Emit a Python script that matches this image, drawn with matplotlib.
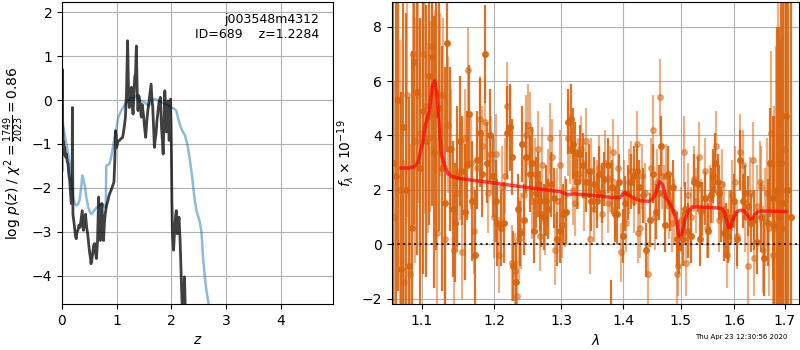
import matplotlib
matplotlib.use('Agg')
import matplotlib.pyplot as plt
from matplotlib.ticker import NullLocator, FixedLocator, FixedFormatter

# p(z) panel: prior-like curve (blue) and log p(z) (dark)
z_blue = [0.0, 0.02, 0.05, 0.08, 0.11, 0.14, 0.17, 0.2, 0.23, 0.26, 0.29, 0.32, 0.35, 0.37,
          0.39, 0.42, 0.45, 0.48, 0.51, 0.54, 0.57, 0.6, 0.63, 0.66, 0.69, 0.72, 0.75, 0.78,
          0.8, 0.81, 0.84, 0.87, 0.9, 0.93, 0.96, 1.0, 1.02, 1.04, 1.08, 1.12, 1.15, 1.18,
          1.22, 1.27, 1.31, 1.36, 1.39, 1.42, 1.46, 1.51, 1.55, 1.59, 1.63, 1.67, 1.71, 1.76,
          1.82, 1.88, 1.94, 2.0, 2.05, 2.09, 2.12, 2.16, 2.2, 2.25, 2.3, 2.34, 2.37, 2.4,
          2.43, 2.46, 2.52, 2.55, 2.58, 2.61, 2.64, 2.69, 2.75]
lnp_blue = [-0.65, -0.6, -0.8, -1.0, -1.2, -1.45, -1.8, -2.2, -2.35, -2.4, -2.38, -2.29, -2.0,
            -1.72, -1.8, -1.98, -2.25, -2.44, -2.55, -2.6, -2.55, -2.5, -2.45, -2.44, -2.4,
            -2.36, -2.38, -2.44, -2.45, -1.49, -1.48, -1.45, -1.3, -1.08, -0.85, -0.62, -0.45,
            -0.36, -0.25, -0.17, -0.1, -0.05, 0.0, 0.05, 0.03, 0.1, 0.05, -0.02, -0.02, -0.05,
            -0.1, -0.13, -0.05, 0.02, 0.02, -0.02, -0.05, -0.09, -0.12, -0.17, -0.2, -0.24,
            -0.4, -0.58, -0.7, -0.81, -1.05, -1.38, -1.65, -1.98, -2.3, -2.52, -2.78, -3.0,
            -3.58, -4.0, -4.33, -4.7, -5.3]

z_dark = [0.0, 0.005, 0.012, 0.02, 0.03, 0.04, 0.05, 0.065, 0.08, 0.095, 0.11, 0.125, 0.14,
          0.155, 0.17, 0.185, 0.19, 0.2, 0.215, 0.23, 0.245, 0.26, 0.275, 0.29, 0.31, 0.33,
          0.35, 0.37, 0.39, 0.41, 0.43, 0.45, 0.47, 0.49, 0.5, 0.52, 0.53, 0.545, 0.56, 0.58,
          0.6, 0.615, 0.63, 0.65, 0.67, 0.685, 0.7, 0.715, 0.73, 0.745, 0.76, 0.775, 0.79,
          0.815, 0.84, 0.855, 0.87, 0.9, 0.92, 0.95, 0.965, 0.98, 0.99, 1.0, 1.02, 1.05, 1.08,
          1.11, 1.14, 1.16, 1.18, 1.2, 1.215, 1.23, 1.25, 1.27, 1.285, 1.3, 1.315, 1.33, 1.345,
          1.36, 1.375, 1.39, 1.405, 1.42, 1.435, 1.45, 1.465, 1.48, 1.495, 1.51, 1.53, 1.55,
          1.57, 1.6, 1.63, 1.645, 1.66, 1.675, 1.69, 1.705, 1.72, 1.735, 1.75, 1.765, 1.78,
          1.8, 1.82, 1.835, 1.85, 1.865, 1.88, 1.895, 1.91, 1.925, 1.94, 1.95, 1.96, 1.975,
          1.985, 1.995, 2.0, 2.01, 2.02, 2.04, 2.06, 2.08, 2.09, 2.11, 2.13, 2.14, 2.16, 2.18,
          2.2, 2.22, 2.24, 2.26, 2.3]
lnp_dark = [-1.6, 0.7, -0.45, -1.05, -0.95, -1.25, -1.08, -1.3, -1.23, -1.4, -1.45, -1.7,
            -1.83, -2.1, -2.36, -2.3, -0.17, -2.6, -2.75, -2.9, -3.1, -3.16, -3.0, -2.97,
            -2.85, -2.9, -2.7, -2.52, -2.97, -2.8, -2.6, -2.9, -3.05, -3.3, -3.42, -3.6, -3.73,
            -3.65, -3.5, -3.3, -3.27, -3.5, -3.61, -3.2, -2.21, -2.9, -3.2, -2.7, -2.36, -2.9,
            -3.2, -2.8, -2.6, -2.4, -2.29, -2.2, -2.14, -2.05, -1.98, -1.87, -1.4, -0.7, -0.8,
            -1.08, -0.95, -0.92, -0.88, -0.85, -0.6, -0.39, 0.2, 1.35, 0.3, -0.17, 0.1, 0.29,
            -0.1, -0.32, 0.1, 0.52, 0.6, 1.23, 0.2, -0.24, 0.1, -0.02, -0.2, -0.39, -0.1, -0.24,
            -0.4, -0.62, -0.85, -0.5, -0.24, 0.06, 0.36, 0.0, -0.17, -0.6, -1.08, -0.9, -0.77,
            -0.5, -0.32, -0.15, -0.02, 0.06, -0.62, -0.9, -1.23, -0.5, 0.21, -0.2, -0.73, -0.3,
            -0.02, -0.5, -0.92, -0.2, 0.02, -0.6, -1.08, -2.29, -3.05, -3.42, -2.97, -2.6,
            -2.52, -3.05, -2.8, -2.67, -3.2, -4.03, -4.8, -4.6, -4.03, -5.0, -6.0]

# spectrum panel: two grism spectra (dark and light) and the model
lam_a = [1.063, 1.066, 1.069, 1.073, 1.076, 1.080, 1.083, 1.087, 1.090, 1.094, 1.097, 1.101,
         1.105, 1.109, 1.113, 1.116, 1.119, 1.123, 1.127, 1.131, 1.134, 1.138, 1.142, 1.145,
         1.148, 1.152, 1.155, 1.158, 1.161, 1.164, 1.168, 1.172, 1.175, 1.179, 1.183, 1.187,
         1.190, 1.194, 1.198, 1.202, 1.204, 1.209, 1.214, 1.219, 1.222, 1.225, 1.227, 1.232,
         1.235, 1.238, 1.241, 1.244, 1.247, 1.252, 1.255, 1.259, 1.262, 1.264, 1.267, 1.269,
         1.273, 1.277, 1.279, 1.285, 1.289, 1.294, 1.298, 1.303, 1.307, 1.311, 1.316, 1.319,
         1.322, 1.325, 1.329, 1.334, 1.340, 1.344, 1.348, 1.353, 1.357, 1.361, 1.365, 1.369,
         1.375, 1.380, 1.382, 1.386, 1.390, 1.394, 1.400, 1.404, 1.408, 1.414, 1.418, 1.424,
         1.428, 1.434, 1.440, 1.446, 1.451, 1.456, 1.461, 1.466, 1.472, 1.478, 1.482, 1.487,
         1.493, 1.498, 1.504, 1.508, 1.513, 1.519, 1.525, 1.531, 1.535, 1.540, 1.544, 1.550,
         1.556, 1.559, 1.563, 1.568, 1.570, 1.575, 1.580, 1.584, 1.587, 1.594, 1.600, 1.606,
         1.611, 1.616, 1.620, 1.626, 1.632, 1.639, 1.645, 1.652, 1.658, 1.665, 1.670, 1.675,
         1.678, 1.683, 1.688, 1.693, 1.697, 1.702, 1.707, 1.712]
flux_a = [3.0, 2.5, 5.3, -0.9, 4.3, 2.0, -0.8, 0.6, 6.7, 5.6, 2.8, 4.9, 3.8, 6.2, 6.9, 3.4,
          4.8, 5.0, 2.8, 1.5, 7.4, 3.5, 1.3, 0.8, 2.5, 3.8, 2.7, 1.2, 2.9, 4.8, 1.6, -0.4, 3.1,
          4.1, 2.6, 7.0, 3.0, 4.0, 2.5, 1.6, 0.8, 0.6, 0.8, 4.1, 4.3, 3.2, -0.8, -1.4, 1.3, 0.4,
          3.7, 0.9, 3.2, 2.6, 3.0, 0.5, 1.9, 2.2, 1.6, 1.1, 1.0, 1.6, 1.3, 2.2, 1.7, 0.2, 0.5,
          1.1, 1.2, 4.5, 4.6, 3.7, 3.4, 2.3, 3.3, 2.9, 2.3, 2.7, 1.6, 2.2, 1.6, 2.6, 1.9, 2.4,
          2.9, -3.0, 2.1, 1.1, 1.1, 2.3, 0.3, 1.5, 1.9, 2.3, 2.5, 2.7, 2.1, 1.8, -0.2, 0.9, 2.6,
          1.2, 1.9, 3.6, 0.7, 2.6, 1.5, 2.1, 0.2, -0.1, 0.2, 1.3, 0.5, 0.3, 2.3, 2.2, 0.2, 1.3,
          1.7, 0.5, 1.8, 2.5, 3.0, 2.3, 1.9, 1.1, 0.4, 0.5, 0.3, 1.0, 1.6, 0.2, 3.1, 1.6, 1.9,
          1.4, 0.8, 0.9, 0.1, 1.0, -0.5, 0.8, 3.0, 1.7, 0.7, 2.0, 1.0, 3.0, 1.5, 4.7, 2.0, 1.0]
err_a = [8.0, 7.5, 7.0, 6.5, 7.0, 6.5, 6.2, 6.5, 6.0, 6.0, 5.5, 6.0, 5.0, 5.5, 5.5, 5.0, 5.0,
         4.5, 4.5, 5.0, 4.0, 3.0, 2.5, 2.2, 2.6, 2.4, 2.0, 2.5, 2.0, 1.8, 2.2, 2.4, 1.8, 2.0,
         1.6, 1.8, 1.5, 1.7, 1.5, 1.5, 1.6, 1.4, 1.5, 1.7, 1.6, 1.4, 1.3, 1.5, 1.3, 1.2, 1.4,
         1.3, 1.3, 1.4, 1.3, 1.2, 1.3, 1.2, 1.1, 1.2, 1.2, 1.3, 1.1, 1.2, 1.1, 1.0, 1.2, 1.1,
         1.2, 1.2, 1.3, 1.3, 1.1, 1.0, 1.1, 1.2, 1.1, 1.0, 1.1, 1.0, 1.0, 1.0, 1.1, 1.0, 1.0,
         1.7, 1.0, 1.0, 1.1, 1.0, 1.0, 1.0, 1.0, 1.0, 1.1, 1.0, 1.0, 1.0, 1.0, 1.0, 1.1, 1.0,
         1.0, 1.1, 1.0, 1.0, 1.0, 1.0, 1.0, 1.0, 1.0, 1.0, 1.0, 1.0, 1.0, 1.0, 1.0, 1.0, 1.0,
         1.0, 1.0, 1.0, 1.1, 1.0, 1.0, 1.0, 1.0, 1.0, 1.0, 1.0, 1.0, 1.0, 1.1, 1.0, 1.0, 1.1,
         1.1, 1.1, 1.2, 1.3, 1.4, 1.6, 2.0, 3.0, 4.0, 6.0, 7.0, 8.0, 9.0, 9.0, 10.0, 10.0]

lam_b = [1.064, 1.071, 1.077, 1.081, 1.084, 1.088, 1.091, 1.095, 1.098, 1.101, 1.104, 1.108,
         1.111, 1.114, 1.117, 1.120, 1.124, 1.128, 1.131, 1.135, 1.139, 1.143, 1.147, 1.151,
         1.155, 1.159, 1.163, 1.167, 1.171, 1.175, 1.179, 1.183, 1.187, 1.191, 1.195, 1.199,
         1.203, 1.207, 1.211, 1.215, 1.218, 1.222, 1.226, 1.230, 1.233, 1.236, 1.239, 1.243,
         1.246, 1.249, 1.252, 1.256, 1.260, 1.264, 1.268, 1.271, 1.275, 1.279, 1.283, 1.286,
         1.290, 1.294, 1.298, 1.302, 1.306, 1.310, 1.314, 1.318, 1.322, 1.327, 1.331, 1.336,
         1.340, 1.345, 1.348, 1.353, 1.357, 1.361, 1.366, 1.370, 1.375, 1.379, 1.383, 1.387,
         1.392, 1.396, 1.401, 1.405, 1.410, 1.414, 1.418, 1.423, 1.425, 1.429, 1.433, 1.438,
         1.443, 1.447, 1.451, 1.455, 1.459, 1.463, 1.467, 1.471, 1.474, 1.479, 1.484, 1.488,
         1.493, 1.496, 1.501, 1.506, 1.509, 1.514, 1.519, 1.524, 1.529, 1.533, 1.538, 1.544,
         1.549, 1.554, 1.560, 1.566, 1.571, 1.576, 1.581, 1.586, 1.590, 1.595, 1.601, 1.605,
         1.610, 1.616, 1.621, 1.626, 1.631, 1.636, 1.639, 1.644, 1.649, 1.652, 1.655, 1.660,
         1.664, 1.668, 1.672, 1.676, 1.678, 1.682, 1.686, 1.690, 1.694, 1.698, 1.702]
flux_b = [1.0, 2.0, -1.4, 5.5, -1.1, 7.0, 3.8, 5.5, 4.1, 7.0, 5.1, 3.9, 4.7, 7.3, 5.6, 0.4,
          5.5, 5.5, 0.2, 4.4, 3.5, -0.2, 1.9, 2.7, -0.3, 3.9, 6.4, 3.0, 0.5, 2.8, 4.6, 3.6,
          4.5, 1.9, 3.3, 1.0, 3.3, -0.4, 2.1, 2.5, 5.1, 4.3, -0.7, -1.0, -1.9, 0.2, 0.5, 1.8,
          4.0, 4.4, 4.2, 1.6, 2.6, 3.5, 0.3, 2.9, 0.9, 2.1, 3.9, 3.2, -0.2, 1.6, 2.9, 0.7, 1.2,
          3.9, 3.5, 2.0, 1.5, 2.6, 3.5, 1.8, 3.8, 0.2, 2.7, 1.3, 2.0, 2.8, 1.1, 3.0, 1.5, 2.4,
          3.4, 1.3, 2.8, -0.3, 1.9, 0.8, 2.3, 2.7, 1.6, 3.7, 0.4, 0.6, 2.5, 1.9, -1.1, 2.8,
          4.2, 1.0, 2.3, 5.4, 2.5, 1.8, 2.5, 1.4, 0.8, 1.2, -1.1, -0.8, 0.9, 3.4, -0.7, 1.8,
          1.0, 2.4, 1.6, 3.2, 1.2, 2.7, 0.6, 1.7, 2.0, 3.6, 0.9, 2.2, 1.1, -0.4, 0.7, 1.8, 2.3,
          0.3, 3.4, 2.9, 1.0, -0.8, 1.9, 3.1, -0.5, 1.4, 2.3, 2.1, -0.2, 1.0, 1.9, 0.6, 4.1,
          -0.4, 0.6, 1.8, 3.0, 1.0, 0.6, 3.5, 2.0]
err_b = [5.0, 5.5, 4.5, 4.5, 4.8, 4.0, 4.5, 4.0, 4.2, 3.5, 4.0, 3.5, 3.5, 3.5, 3.0, 3.5, 3.0,
         2.8, 3.0, 2.5, 2.2, 2.0, 2.2, 1.8, 1.7, 1.8, 1.6, 1.7, 1.6, 1.5, 1.6, 1.5, 1.4, 1.5,
         1.4, 1.5, 1.5, 1.4, 1.5, 1.4, 1.6, 1.5, 1.4, 1.4, 1.3, 1.5, 1.4, 1.4, 1.5, 1.5, 1.4,
         1.4, 1.3, 1.4, 1.3, 1.4, 1.3, 1.4, 1.3, 1.4, 1.3, 1.2, 1.3, 1.2, 1.3, 1.4, 1.3, 1.3,
         1.2, 1.3, 1.2, 1.3, 1.2, 1.3, 1.2, 1.2, 1.1, 1.2, 1.1, 1.2, 1.1, 1.2, 1.2, 1.1, 1.2,
         1.1, 1.2, 1.1, 1.2, 1.1, 1.2, 1.2, 1.1, 1.1, 1.2, 1.1, 1.2, 1.1, 1.3, 1.2, 1.2, 1.4,
         1.2, 1.1, 1.2, 1.2, 1.1, 1.2, 1.1, 1.1, 1.2, 1.3, 1.2, 1.2, 1.1, 1.2, 1.2, 1.3, 1.2,
         1.2, 1.1, 1.2, 1.2, 1.3, 1.2, 1.3, 1.2, 1.2, 1.3, 1.3, 1.3, 1.2, 1.4, 1.3, 1.3, 1.4,
         1.3, 1.4, 1.4, 1.5, 1.5, 1.5, 1.6, 1.8, 2.0, 2.5, 3.0, 3.8, 4.5, 5.5, 6.0, 6.5, 7.0,
         7.5, 8.0]

model_lam = [1.073, 1.082, 1.090, 1.095, 1.100, 1.105, 1.110, 1.114, 1.117, 1.120, 1.123,
             1.126, 1.130, 1.135, 1.140, 1.150, 1.170, 1.200, 1.250, 1.300, 1.310, 1.320,
             1.350, 1.380, 1.395, 1.403, 1.410, 1.420, 1.430, 1.445, 1.452, 1.458, 1.463,
             1.468, 1.474, 1.482, 1.488, 1.493, 1.497, 1.502, 1.508, 1.515, 1.522, 1.550,
             1.575, 1.581, 1.585, 1.589, 1.593, 1.598, 1.605, 1.612, 1.620, 1.626, 1.630,
             1.635, 1.642, 1.650, 1.670, 1.702]
model_flux = [2.8, 2.8, 2.85, 3.0, 3.6, 4.4, 4.9, 5.8, 6.0, 5.6, 4.5, 3.3, 2.95, 2.6, 2.5,
              2.42, 2.35, 2.25, 2.08, 1.93, 1.82, 1.85, 1.8, 1.72, 1.72, 1.9, 1.8, 1.68, 1.6,
              1.58, 1.7, 2.0, 2.3, 2.2, 1.7, 1.45, 1.2, 0.8, 0.3, 0.35, 0.9, 1.25, 1.38, 1.36,
              1.32, 1.2, 0.9, 0.6, 0.62, 0.95, 1.2, 1.25, 1.22, 1.05, 0.92, 0.95, 1.15, 1.22,
              1.22, 1.2]

lam_ticks = [1.1, 1.2, 1.3, 1.4, 1.5, 1.6, 1.7]

fig = plt.figure(figsize=(8, 3.5), dpi=100)

# left: p(z)
ax1 = fig.add_axes([0.0775, 0.131, 0.339, 0.863])
ax1.plot(z_blue, lnp_blue, color='#1f77b4', alpha=0.5, lw=1.8)
ax1.plot(z_dark, lnp_dark, color='k', alpha=0.75, lw=2)
ax1.set_xlim(0, 4.96)
ax1.set_ylim(-4.65, 2.23)
ax1.set_xticks([0, 1, 2, 3, 4])
ax1.set_yticks([-4, -3, -2, -1, 0, 1, 2])
ax1.grid()
ax1.set_xlabel('$z$')
ax1.set_ylabel(r'log $p(z)$ / $\chi^2=\frac{1749}{2023}=0.86$')
ax1.text(0.95, 0.965, 'j003548m4312\nID=689    z=1.2284', ha='right', va='top',
         fontsize=9, transform=ax1.transAxes)

# right: spectrum
ax2 = fig.add_axes([0.4896, 0.131, 0.5095, 0.863])
orange = '#d9640f'
ax2.errorbar(lam_b, flux_b, yerr=err_b, fmt='o', color=orange, alpha=0.5,
             markersize=4, elinewidth=1.6, capsize=0)
ax2.errorbar(lam_a, flux_a, yerr=err_a, fmt='o', color=orange, alpha=0.9,
             markersize=4, elinewidth=1.6, capsize=0)
ax2.plot(model_lam, model_flux, color='r', alpha=0.7, lw=2.5, zorder=10)
ax2.axhline(0, color='k', ls=':', lw=1.5, alpha=0.8, zorder=11)
ax2.set_xscale('log')
ax2.xaxis.set_major_locator(FixedLocator(lam_ticks))
ax2.xaxis.set_major_formatter(FixedFormatter([str(t) for t in lam_ticks]))
ax2.xaxis.set_minor_locator(NullLocator())
ax2.set_xlim(1.061, 1.7295)
ax2.set_ylim(-2.2, 8.9)
ax2.set_yticks([-2, 0, 2, 4, 6, 8])
ax2.grid()
ax2.set_xlabel(r'$\lambda$')
ax2.set_ylabel(r'$f_\lambda\times10^{-19}$')

fig.text(0.984, 0.03, 'Thu Apr 23 12:30:56 2020', ha='right', va='bottom', fontsize=5)

fig.savefig('out.png', dpi=100)
